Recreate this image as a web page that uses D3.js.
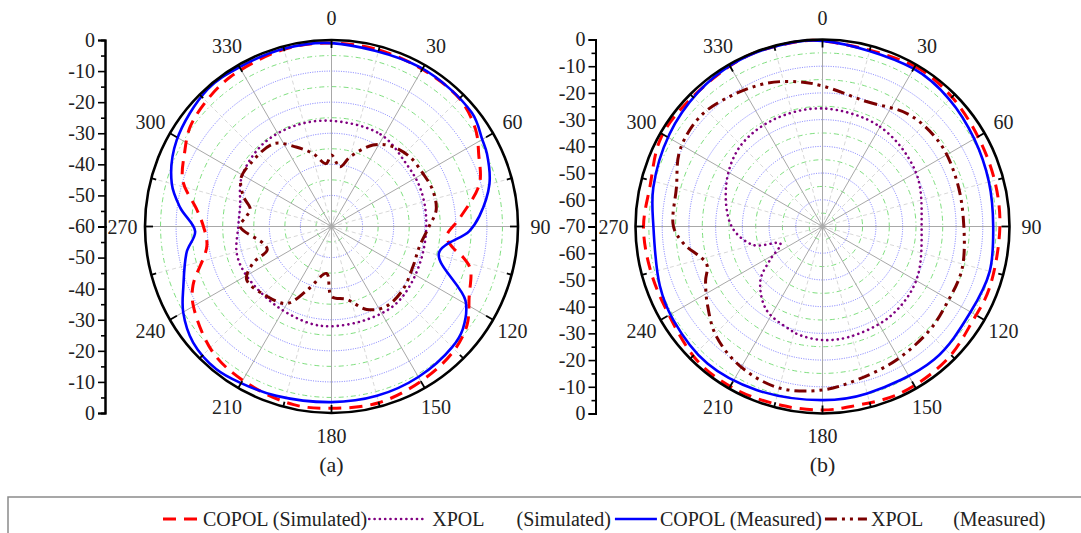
<!DOCTYPE html>
<html><head><meta charset="utf-8">
<script src="https://cdn.jsdelivr.net/npm/d3@7"></script>
<style>
body{margin:0;background:#fff;}
svg{display:block;}
</style>
</head><body>
<svg id="chart" width="1081" height="533"></svg>
<script>
// ---------- data ----------
const angleLabels = [0, 30, 60, 90, 120, 150, 180, 210, 240, 270, 300, 330];
const radialTicksA = [0, -10, -20, -30, -40, -50, -60];
const radialTicksB = [0, -10, -20, -30, -40, -50, -60, -70];
const panelLabels = ["(a)", "(b)"];
const legendLabels = ["COPOL (Simulated)", "XPOL", "(Simulated)", "COPOL (Measured)", "XPOL", "(Measured)"];

// Panel (a)
const copolSimA_ang = [0, 15, 30, 45, 56, 64, 74, 86, 95, 100, 103, 107, 117, 126, 136, 150, 165, 180, 192, 208, 223, 240, 247, 261, 270, 277, 287, 297, 305, 315, 326, 345];
const copolSimA     = [-1, -1.2, -1.6, -1.8, -4.1, -7.3, -10.5, -18.5, -22.8, -20.3, -16.7, -13.3, -10.3, -6.1, -3.8, -2.5, -1.3, -1.5, -1.4, -2.7, -4.3, -8.7, -11.6, -19.4, -18.8, -16.4, -10, -7, -4.4, -3, -1.9, -1];
const copolMeasA_ang = [0, 29, 51, 60, 65, 75, 86, 92, 104, 119, 128, 135, 150, 165, 180, 198, 210, 219, 230, 240, 248, 260, 268, 277, 285, 299, 318, 330, 345];
const copolMeasA     = [-1, -1.4, -1.9, -4, -4.8, -7.4, -12.3, -15.7, -24.4, -10.7, -6.4, -5.1, -4.1, -3.6, -3.5, -2.7, -1.8, -1, -1.9, -4.9, -8.6, -12.7, -16.1, -11, -6.8, -3, -0.5, -0.8, -0.8];
const xpolSimA_ang = [0, 28, 50, 66, 84, 106, 127, 142, 160, 180, 193, 215, 240, 254, 270, 282, 299, 320, 340];
const xpolSimA     = [-26, -26.4, -28.6, -28.9, -29.4, -29.4, -28.4, -27.6, -28, -27.9, -28.1, -28.9, -28.4, -28.3, -30, -29.9, -27, -25.5, -25.5];
const xpolMeasA_ang = [0, 8, 15, 27, 36, 48, 60, 70, 81, 90, 103, 116, 132, 146, 157, 168, 180, 186, 201, 210, 223, 238, 245, 250, 256, 270, 277, 282, 289, 298, 308, 325, 336, 346, 355];
const xpolMeasA     = [-37, -40.6, -36.8, -30.6, -27.9, -26.3, -26, -25.4, -25.9, -28.6, -31, -30.8, -29.3, -28.9, -31, -36, -37.5, -44.8, -38, -31.4, -29.4, -27.8, -32.2, -38, -37.4, -30.6, -32.5, -33.3, -30, -27, -27, -27.5, -32, -35.9, -39.7];

// Panel (b)
const copolSimB_ang = [0, 30, 45, 60, 75, 90, 110, 122, 137, 155, 171, 180, 193, 208, 223, 244, 257, 270, 283, 298, 311, 334, 350];
const copolSimB     = [-0.5, -0.8, -1.5, -2.8, -3.3, -3.6, -3.4, -3.6, -1.8, -1.1, -1.8, -1.3, -1.3, -0.9, -1.3, -3.8, -3.5, -3, -3.7, -1.1, -1.2, -0.3, -0.3];
const copolMeasB_ang = [0, 30, 45, 60, 75, 90, 105, 120, 140, 165, 180, 202, 220, 238, 250, 270, 283, 301, 317, 331, 345];
const copolMeasB     = [-0.5, -1.8, -2.8, -4.4, -5.5, -6.1, -5.2, -6, -5, -5.3, -5, -4, -3, -4.1, -5.2, -6.7, -5, -3.1, -1.5, -0.5, -0.3];
const xpolSimB_ang = [0, 30, 60, 90, 120, 143, 166, 180, 192, 197, 214, 229, 237.5, 248, 255, 270, 294, 314, 335];
const xpolSimB     = [-25.8, -26.9, -29.6, -32.9, -29.5, -27.9, -27.5, -27.5, -28.5, -29.4, -32.4, -39.2, -46.7, -53, -43.2, -36, -30.6, -27, -26];
const xpolMeasB_ang = [0, 19, 38, 55, 71, 87, 107, 122, 134, 151, 167, 180, 195, 210, 224, 236, 245, 252, 263, 270, 285, 298, 312, 325, 339, 351];
const xpolMeasB     = [-17.4, -20.4, -17, -16.1, -16.9, -17.2, -15.4, -15.3, -14.2, -12.9, -11.2, -8.8, -7.4, -9.2, -12.8, -18, -21.7, -24.4, -17.6, -14.2, -13.4, -9.5, -8.4, -10.3, -12.5, -15.2];

// ---------- styles ----------
const FONT = '"Liberation Serif"';
const styles = {
  copolSim:  {stroke: "#ff0000", width: 3,   dash: "13,8", cap: "butt"},
  xpolSim:   {stroke: "#800080", width: 2.6, dash: "0.1,5.2", cap: "round"},
  copolMeas: {stroke: "#0000ff", width: 2.6, dash: null, cap: "butt"},
  xpolMeas:  {stroke: "#7b0000", width: 3,   dash: "12,5,3,5,3,5", cap: "butt"}
};

const svg = d3.select("#chart");

function drawPanel(cx, cy, R, minDb, rTicks, series, label) {
  const g = svg.append("g").attr("transform", `translate(${cx},${cy})`);
  const r = d3.scaleLinear().domain([minDb, 0]).range([0, R]);
  const ang = d3.scaleLinear().domain([0, 360]).range([0, 2 * Math.PI]);

  // rings
  const ringVals = d3.range(minDb + 5, 0, 5);
  g.selectAll("circle.ring").data(ringVals).join("circle")
    .attr("r", d => r(d)).attr("fill", "none")
    .attr("stroke", d => (d % 10 === 0) ? "#6a6aff" : "#70da70")
    .attr("stroke-width", 0.9)
    .attr("stroke-dasharray", d => (d % 10 === 0) ? "1,1.4" : "5,3,1.2,3");

  // minor spokes
  const minorSpokes = d3.range(15, 360, 30);
  g.selectAll("line.ms").data(minorSpokes).join("line")
    .attr("x1", 0).attr("y1", 0)
    .attr("x2", d => R * Math.sin(ang(d))).attr("y2", d => -R * Math.cos(ang(d)))
    .attr("stroke", "#d4d4d4").attr("stroke-width", 0.9).attr("stroke-dasharray", "4,3");
  // major spokes
  g.selectAll("line.mj").data(angleLabels).join("line")
    .attr("x1", 0).attr("y1", 0)
    .attr("x2", d => R * Math.sin(ang(d))).attr("y2", d => -R * Math.cos(ang(d)))
    .attr("stroke", "#a8a8a8").attr("stroke-width", 1);

  // series
  const line = d3.lineRadial()
    .angle(d => ang(d[0])).radius(d => r(d[1]))
    .curve(d3.curveCatmullRomClosed.alpha(0.5));
  series.forEach(s => {
    const data = s.ang.map((a, i) => [a, s.val[i]]);
    const st = styles[s.style];
    g.append("path").datum(data).attr("d", line)
      .attr("fill", "none").attr("stroke", st.stroke).attr("stroke-width", st.width)
      .attr("stroke-dasharray", st.dash).attr("stroke-linecap", st.cap)
      .attr("stroke-linejoin", "round");
  });

  // outer circle
  g.append("circle").attr("r", R).attr("fill", "none").attr("stroke", "#000").attr("stroke-width", 2.6);
  // outer ticks
  const outerTicks = d3.range(0, 360, 15);
  g.selectAll("line.ot").data(outerTicks).join("line")
    .attr("x1", d => R * Math.sin(ang(d))).attr("y1", d => -R * Math.cos(ang(d)))
    .attr("x2", d => (R - (d % 30 === 0 ? 8 : 5)) * Math.sin(ang(d)))
    .attr("y2", d => -(R - (d % 30 === 0 ? 8 : 5)) * Math.cos(ang(d)))
    .attr("stroke", "#000").attr("stroke-width", 1.8);

  // angle labels
  g.selectAll("text.al").data(angleLabels).join("text")
    .attr("x", d => 209 * Math.sin(ang(d))).attr("y", d => -209 * Math.cos(ang(d)))
    .attr("text-anchor", "middle").attr("dominant-baseline", "central")
    .attr("font-family", FONT).attr("fill", "#222")
    .attr("font-size", 20).text(d => d);

  // radial axis at left
  const axisX = -R - 40;
  const yTop = d3.scaleLinear().domain([minDb, 0]).range([0, -R]);
  const yBot = d3.scaleLinear().domain([minDb, 0]).range([0, R]);
  const minorVals = d3.range(minDb + 5, 0, 10);
  const mkAxis = (scale, vals, size, labels) => d3.axisLeft(scale).tickValues(vals)
    .tickSize(size).tickPadding(3).tickFormat(labels ? (d => String(d)) : "");
  const axG = g.append("g").attr("transform", `translate(${axisX},0)`);
  axG.append("g").call(mkAxis(yTop, rTicks, 7, true));
  axG.append("g").call(mkAxis(yBot, rTicks.filter(v => v !== minDb), 7, true));
  axG.append("g").call(mkAxis(yTop, minorVals, 4, false));
  axG.append("g").call(mkAxis(yBot, minorVals, 4, false));
  axG.selectAll("g").attr("font-family", FONT).attr("font-size", 20);
  axG.selectAll("path.domain").attr("stroke", "#000").attr("stroke-width", 2);
  axG.selectAll(".tick line").attr("stroke", "#000").attr("stroke-width", 1.6);
  axG.selectAll(".tick text").attr("font-size", 20).attr("font-family", FONT).attr("fill", "#222");

  // panel label
  svg.append("text").attr("x", cx).attr("y", 472).attr("text-anchor", "middle")
    .attr("font-family", FONT).attr("fill", "#222")
    .attr("font-size", 22).text(label);
}

drawPanel(331.5, 226.5, 186.5, -60, radialTicksA, [
  {ang: xpolSimA_ang, val: xpolSimA, style: "xpolSim"},
  {ang: xpolMeasA_ang, val: xpolMeasA, style: "xpolMeas"},
  {ang: copolSimA_ang, val: copolSimA, style: "copolSim"},
  {ang: copolMeasA_ang, val: copolMeasA, style: "copolMeas"}
], panelLabels[0]);

drawPanel(822.5, 226.5, 187, -70, radialTicksB, [
  {ang: xpolSimB_ang, val: xpolSimB, style: "xpolSim"},
  {ang: xpolMeasB_ang, val: xpolMeasB, style: "xpolMeas"},
  {ang: copolSimB_ang, val: copolSimB, style: "copolSim"},
  {ang: copolMeasB_ang, val: copolMeasB, style: "copolMeas"}
], panelLabels[1]);

// ---------- legend ----------
svg.append("rect").attr("x", 8).attr("y", 497).attr("width", 1100).attr("height", 60)
  .attr("fill", "none").attr("stroke", "#8a8a8a").attr("stroke-width", 1.5);
const lg = svg.append("g");
const ly = 519, tb = 526;
let x = 163;
function sample(style, len) {
  const st = styles[style];
  lg.append("line").attr("x1", x).attr("x2", x + len).attr("y1", ly).attr("y2", ly)
    .attr("stroke", st.stroke).attr("stroke-width", st.width)
    .attr("stroke-dasharray", st.dash).attr("stroke-linecap", st.cap);
  x += len;
}
function label(t, gapAfter) {
  const el = lg.append("text").attr("x", x).attr("y", tb).attr("font-size", 20)
    .attr("font-family", FONT).attr("fill", "#222").text(t);
  x += el.node().getComputedTextLength() + gapAfter;
}
sample("copolSim", 37); x += 3;
label(legendLabels[0], 2);
sample("xpolSim", 55); x += 8;
label(legendLabels[1], 32);
label(legendLabels[2], 4);
sample("copolMeas", 42); x += 3;
label(legendLabels[3], 3);
sample("xpolMeas", 42); x += 4;
label(legendLabels[4], 30);
label(legendLabels[5], 0);
</script>
</body></html>
